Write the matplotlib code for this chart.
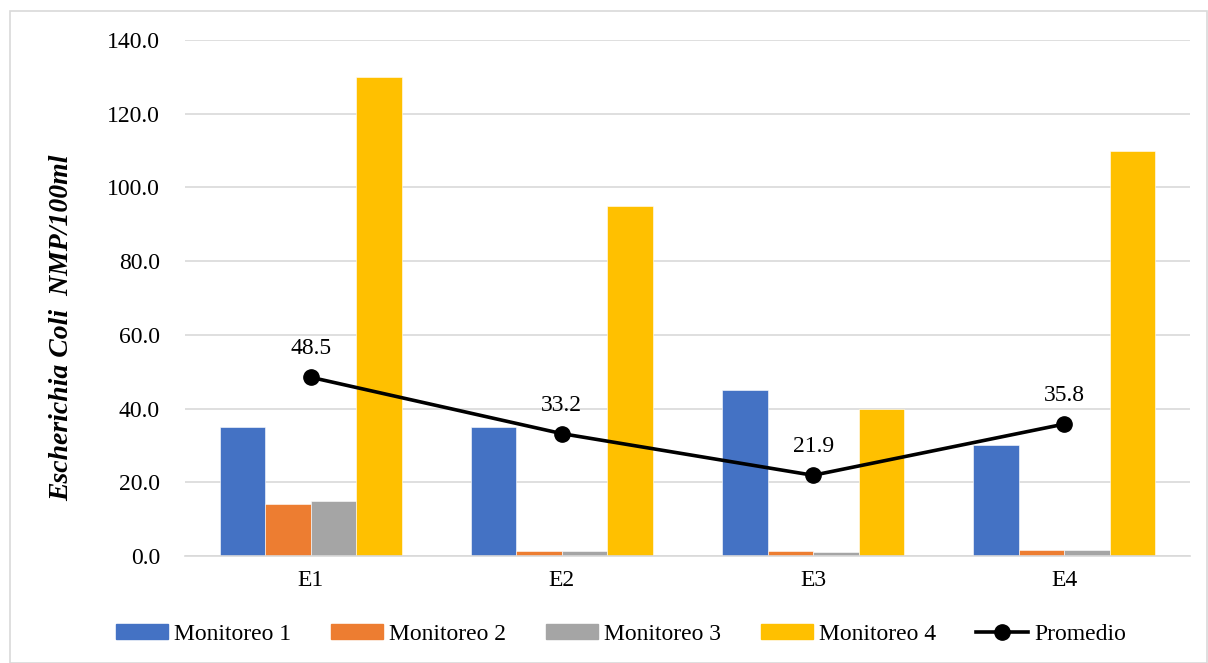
import matplotlib
matplotlib.use("Agg")
import matplotlib.pyplot as plt
from matplotlib.patches import Rectangle
from matplotlib.lines import Line2D
import numpy as np

estaciones = ["E1", "E2", "E3", "E4"]
monitoreo_1 = [35.0, 35.0, 45.0, 30.0]
monitoreo_2 = [14.0, 1.4, 1.4, 1.7]
monitoreo_3 = [15.0, 1.4, 1.2, 1.5]
monitoreo_4 = [130.0, 95.0, 40.0, 110.0]
promedio = [48.5, 33.2, 21.9, 35.8]
series_names = ["Monitoreo 1", "Monitoreo 2", "Monitoreo 3", "Monitoreo 4"]
colors = ["#4472C4", "#ED7D31", "#A5A5A5", "#FFC000"]

plt.rcParams["font.family"] = ["Liberation Serif", "DejaVu Serif"]
FS = 17

W, H = 1208, 663
fig = plt.figure(figsize=(W / 100, H / 100), dpi=100)
ax = fig.add_axes([185 / W, 1 - 556 / H, (1190 - 185) / W, (556 - 40) / H])

# outer chart border
fig.patches.append(Rectangle((10 / W, 0.5 / H), (W - 11) / W, (H - 11) / H,
                             transform=fig.transFigure, fill=False,
                             edgecolor="#D9D9D9", linewidth=1.2))

x = np.arange(len(estaciones))
bw = 0.181
data = [monitoreo_1, monitoreo_2, monitoreo_3, monitoreo_4]
for i, (vals, c, name) in enumerate(zip(data, colors, series_names)):
    ax.bar(x + (i - 1.5) * bw, vals, width=bw, color=c, label=name,
           edgecolor="white", linewidth=0.4, zorder=2)

ax.plot(x, promedio, color="black", linewidth=2.6, marker="o",
        markersize=11, zorder=3, label="Promedio")
for xi, v in zip(x, promedio):
    ax.annotate(f"{v:.1f}", (xi, v), xytext=(0, 13), textcoords="offset points",
                ha="center", va="bottom", fontsize=FS)

ax.set_xlim(-0.5, 3.5)
ax.set_ylim(0, 140)
ax.set_yticks(np.arange(0, 141, 20))
ax.set_yticklabels([f"{v:.1f}" for v in np.arange(0, 141, 20)], fontsize=FS)
ax.set_xticks(x)
ax.set_xticklabels(estaciones, fontsize=FS)
ax.tick_params(length=0, pad=10)
ax.tick_params(axis="y", pad=18)
ax.grid(axis="y", color="#D9D9D9", linewidth=1.2, zorder=0)
ax.set_axisbelow(True)
for s in ["top", "right", "left"]:
    ax.spines[s].set_visible(False)
ax.spines["bottom"].set_color("#D9D9D9")
ax.spines["bottom"].set_linewidth(1.2)

fig.text(62 / W, 1 - 328 / H, "Escherichia Coli  NMP/100ml", rotation=90,
         ha="center", va="center", fontsize=20, fontweight="bold", style="italic")

handles = [Rectangle((0, 0), 1, 1, color=c) for c in colors]
handles.append(Line2D([0], [0], color="black", linewidth=2.6, marker="o", markersize=11))
fig.legend(handles, series_names + ["Promedio"], loc="center",
           bbox_to_anchor=(621 / W, 1 - 634 / H), ncol=5, frameon=False,
           fontsize=FS, handlelength=2.2, handletextpad=0.25, columnspacing=1.7,
           handleheight=0.6)

fig.savefig("out.png", dpi=100)
